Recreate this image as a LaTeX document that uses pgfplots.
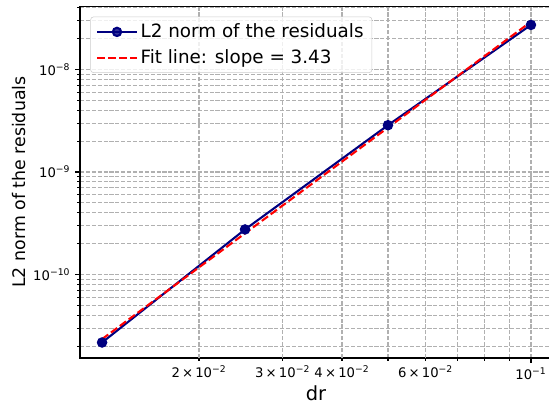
\documentclass[border=0pt]{standalone}
\usepackage{fontspec}
\setmainfont{DejaVu Sans}
\usepackage{pgfplots}
\pgfplotsset{compat=1.18}
\definecolor{navyblue}{RGB}{0,0,128}
\definecolor{gridgray}{RGB}{176,176,176}
\definecolor{legendgray}{RGB}{204,204,204}
\begin{document}
\begin{tikzpicture}
\begin{axis}[
    name=ax,
    scale only axis,
    width=339.8pt, height=253.4pt,
    xmode=log, ymode=log,
    xmin=0.011231, xmax=0.1107,
    ymin=1.53e-11, ymax=4.15e-8,
    tick align=outside,
    tick pos=left,
    major tick length=3.5pt,
    minor tick length=2pt,
    axis line style={line width=0.8pt},
    every tick/.style={black, line width=0.8pt},
    xtick={0.1},
    xticklabels={10\textsuperscript{−1}},
    extra x ticks={0.02,0.03,0.04,0.06},
    extra x tick labels={2\,×\,10\textsuperscript{−2},3\,×\,10\textsuperscript{−2},4\,×\,10\textsuperscript{−2},6\,×\,10\textsuperscript{−2}},
    extra x tick style={major tick length=2pt},
    minor xtick={0.05,0.07,0.08,0.09},
    ytick={1e-10,1e-9,1e-8},
    yticklabels={10\textsuperscript{−10},10\textsuperscript{−9},10\textsuperscript{−8}},
    minor ytick={2e-11,3e-11,4e-11,5e-11,6e-11,7e-11,8e-11,9e-11,
                 2e-10,3e-10,4e-10,5e-10,6e-10,7e-10,8e-10,9e-10,
                 2e-9,3e-9,4e-9,5e-9,6e-9,7e-9,8e-9,9e-9,
                 2e-8,3e-8,4e-8},
    grid=both,
    major grid style={gridgray, line width=0.8pt, dash pattern=on 2.96pt off 1.28pt},
    minor grid style={gridgray, line width=0.8pt, dash pattern=on 2.96pt off 1.28pt},
    tick label style={font=\fontsize{9.5}{11}\selectfont},
    xlabel={dr},
    ylabel={L2 norm of the residuals},
    xlabel style={font=\fontsize{14}{16}\selectfont, yshift=8pt},
    ylabel style={font=\fontsize{12.5}{15}\selectfont, yshift=-1.5pt},
    legend cell align=left,
    every axis plot/.append style={legend image code/.code={\draw[mark repeat=2,mark phase=2] plot coordinates {(0cm,0cm) (0.5cm,0cm) (1cm,0cm)};}},
    legend style={at={(0.022,0.97)}, anchor=north west,
        draw=legendgray, rounded corners=2pt, fill=white, fill opacity=0.8, text opacity=1,
        font=\fontsize{13.2}{15.5}\selectfont, row sep=3pt, inner xsep=4pt, inner ysep=3pt},
]
\addplot[navyblue, line width=1.5pt, mark=*, mark size=3pt, mark options={solid}]
    coordinates {(0.0125,2.17e-11) (0.025,2.75e-10) (0.05,2.86e-9) (0.1,2.72e-8)};
\addlegendentry{L2 norm of the residuals}
\addplot[red, line width=1.5pt, dash pattern=on 5.55pt off 2.4pt, mark=none]
    coordinates {(0.0125,2.34e-11) (0.025,2.52e-10) (0.05,2.71e-9) (0.1,2.92e-8)};
\addlegendentry{Fit line: slope = 3.43}
\end{axis}
\pgfresetboundingbox
\path[use as bounding box] ([shift={(-57.6pt,-33.8pt)}]ax.south west) rectangle ([shift={(337.7pt,257.8pt)}]ax.south west);
\end{tikzpicture}
\end{document}
